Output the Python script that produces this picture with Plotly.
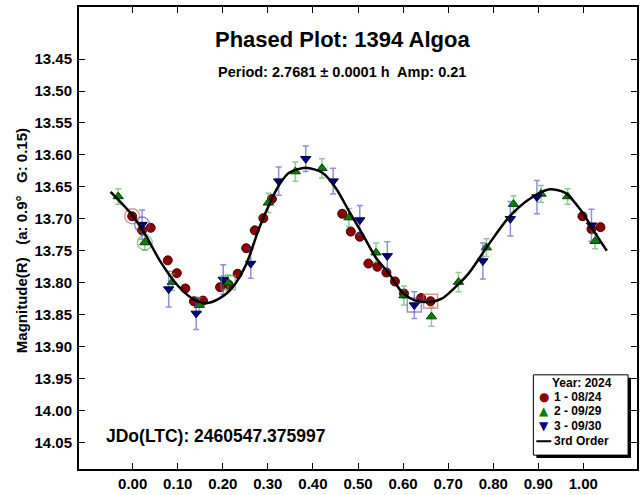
import plotly.graph_objects as go

# ---------------- data ----------------
s1_phase = [-0.001, 0.021, 0.040, 0.078, 0.098, 0.117, 0.136, 0.156, 0.194, 0.213,
            0.233, 0.252, 0.271, 0.290, 0.309, 0.465, 0.484, 0.504, 0.523, 0.543,
            0.563, 0.582, 0.602, 0.640, 0.661, 0.998, 1.018, 1.038]
s1_mag = [13.696, 13.718, 13.714, 13.765, 13.785, 13.809, 13.829, 13.828, 13.807, 13.803,
          13.786, 13.746, 13.718, 13.699, 13.669, 13.692, 13.720, 13.728, 13.770, 13.775,
          13.784, 13.798, 13.817, 13.824, 13.829, 13.696, 13.716, 13.713]
s1_err = [0.005] * len(s1_phase)

s2_phase = [-0.032, 0.027, 0.088, 0.148, 0.212, 0.301, 0.361, 0.420, 0.480, 0.540,
            0.602, 0.663, 0.723, 0.785, 0.845, 0.906, 0.965, 1.026]
s2_mag = [13.665, 13.737, 13.799, 13.835, 13.800, 13.675, 13.626, 13.621, 13.698, 13.753,
          13.820, 13.853, 13.799, 13.745, 13.677, 13.661, 13.665, 13.735]
s2_err = [0.012, 0.012, 0.013, 0.012, 0.012, 0.015, 0.015, 0.015, 0.014, 0.015,
          0.015, 0.015, 0.015, 0.014, 0.013, 0.013, 0.012, 0.012]

s3_phase = [0.021, 0.080, 0.141, 0.201, 0.262, 0.324, 0.384, 0.445, 0.504, 0.565,
            0.625, 0.777, 0.838, 0.897, 1.018]
s3_mag = [13.709, 13.810, 13.848, 13.795, 13.770, 13.641, 13.606, 13.641, 13.702, 13.758,
          13.835, 13.766, 13.700, 13.666, 13.710]
s3_err = [0.023, 0.028, 0.025, 0.023, 0.023, 0.022, 0.020, 0.020, 0.023, 0.022,
          0.021, 0.028, 0.027, 0.026, 0.025]

# first (circled) and last (boxed) point of each session: indices into the series
first_idx = {"s1": 0, "s2": 1, "s3": 0}
last_idx = {"s1": 24, "s2": 4, "s3": 10}

fit_phase = [-0.049, 0.000, 0.030, 0.060, 0.097, 0.133, 0.163, 0.192, 0.222, 0.252,
             0.281, 0.310, 0.325, 0.347, 0.384, 0.421, 0.451, 0.480, 0.510, 0.539,
             0.569, 0.598, 0.628, 0.657, 0.686, 0.716, 0.746, 0.790, 0.834, 0.878,
             0.923, 0.959, 0.996, 1.026, 1.052]
fit_mag = [13.658, 13.695, 13.727, 13.765, 13.802, 13.825, 13.832, 13.825, 13.807, 13.771,
           13.714, 13.667, 13.647, 13.628, 13.620, 13.628, 13.652, 13.688, 13.724, 13.760,
           13.786, 13.815, 13.828, 13.830, 13.825, 13.807, 13.785, 13.740, 13.698, 13.670,
           13.654, 13.659, 13.688, 13.722, 13.750]

x_ticks = [0.0, 0.1, 0.2, 0.3, 0.4, 0.5, 0.6, 0.7, 0.8, 0.9, 1.0]
x_tick_labels = ["0.00", "0.10", "0.20", "0.30", "0.40", "0.50", "0.60", "0.70", "0.80", "0.90", "1.00"]
y_ticks = [13.45, 13.50, 13.55, 13.60, 13.65, 13.70, 13.75, 13.80, 13.85, 13.90, 13.95, 14.00, 14.05]
y_tick_labels = ["%.2f" % v for v in y_ticks]

legend_title = "Year: 2024"
fit_name = "3rd Order"

series = [
    ("s1", "1 - 08/24", s1_phase, s1_mag, s1_err, "circle", 9, "#8b0000", "#4a0000", "rgba(205,90,90,0.65)", "●"),
    ("s2", "2 - 09/29", s2_phase, s2_mag, s2_err, "triangle-up", 9, "#008000", "#004000", "rgba(70,170,70,0.6)", "▲"),
    ("s3", "3 - 09/30", s3_phase, s3_mag, s3_err, "triangle-down", 9, "#000080", "#000040", "rgba(70,70,190,0.6)", "▼"),
]

FONT = "Liberation Sans, Arial, sans-serif"

# layout geometry helpers (pixel -> paper)
L, T, W, H = 79, 7, 560, 466
def px(x):
    return (x - L) / W
def py(y):
    return (T + H - y) / H

fig = go.Figure()

for key, name, ph, mg, er, sym, size, col, edge, ecol, glyph in series:
    fig.add_trace(go.Scatter(
        x=ph, y=mg, mode="markers", name=name, showlegend=False,
        marker=dict(symbol=sym, size=size, color=col, line=dict(color=edge, width=1)),
        error_y=dict(type="data", array=er, visible=True, color=ecol, thickness=1.5, width=3),
    ))

# circled first points and boxed last points
for key, name, ph, mg, er, sym, size, col, edge, ecol, glyph in series:
    i = first_idx[key]
    fig.add_trace(go.Scatter(
        x=[ph[i]], y=[mg[i]], mode="markers", showlegend=False, hoverinfo="skip",
        marker=dict(symbol="circle-open", size=15, color=ecol, line=dict(width=1.5, color=ecol)),
    ))
    j = last_idx[key]
    fig.add_trace(go.Scatter(
        x=[ph[j]], y=[mg[j]], mode="markers", showlegend=False, hoverinfo="skip",
        marker=dict(symbol="square-open", size=14, color=ecol, line=dict(width=1.5, color=ecol)),
    ))

fig.add_trace(go.Scatter(
    x=fit_phase, y=fit_mag, mode="lines", name=fit_name, showlegend=False,
    line=dict(color="black", width=2.5, shape="spline", smoothing=0.8),
))

axis_common = dict(
    showline=True, linecolor="black", linewidth=2, mirror="allticks",
    ticks="inside", ticklen=6, tickcolor="black", tickwidth=1,
    showgrid=False, zeroline=False,
    tickfont=dict(family=FONT, size=15, color="black", weight="bold"),
)

# ---- legend box (drawn manually to match the compact boxed legend) ----
lg_x0, lg_x1, lg_y0, lg_y1 = 535, 630, 378, 459
shapes = [
    dict(type="rect", xref="paper", yref="paper",
         x0=px(lg_x0 + 3), x1=px(lg_x1 + 3), y0=py(lg_y1 + 3), y1=py(lg_y0 + 3),
         fillcolor="black", line=dict(width=0), layer="above"),
    dict(type="rect", xref="paper", yref="paper",
         x0=px(lg_x0), x1=px(lg_x1), y0=py(lg_y1), y1=py(lg_y0),
         fillcolor="white", line=dict(width=1, color="black"), layer="above"),
    dict(type="line", xref="paper", yref="paper",
         x0=px(538), x1=px(553), y0=py(445), y1=py(445),
         line=dict(width=2, color="black"), layer="above"),
]

lgfont = dict(family=FONT, size=12, color="black", weight="bold")
annotations = [
    dict(text=legend_title, xref="paper", yref="paper", x=px(584), y=py(386),
         xanchor="center", yanchor="middle", showarrow=False, font=lgfont),
]
row_y = [400, 415, 430]
for (key, name, ph, mg, er, sym, size, col, edge, ecol, glyph), ry in zip(series, row_y):
    annotations.append(dict(text=glyph, xref="paper", yref="paper", x=px(546), y=py(ry),
                            xanchor="center", yanchor="middle", showarrow=False,
                            font=dict(family="DejaVu Sans", size=12, color=col)))
    annotations.append(dict(text=name, xref="paper", yref="paper", x=px(554), y=py(ry),
                            xanchor="left", yanchor="middle", showarrow=False, font=lgfont))
annotations.append(dict(text=fit_name, xref="paper", yref="paper", x=px(554), y=py(445),
                        xanchor="left", yanchor="middle", showarrow=False, font=lgfont))

annotations += [
    dict(text="Phased Plot: 1394 Algoa", xref="paper", yref="paper", x=px(343), y=py(40),
         xanchor="center", yanchor="middle",
         showarrow=False, font=dict(family=FONT, size=22, color="black", weight="bold")),
    dict(text="Period: 2.7681 ± 0.0001 h  Amp: 0.21", xref="paper", yref="paper", x=px(343),
         y=py(73), xanchor="center", yanchor="middle",
         showarrow=False, font=dict(family=FONT, size=14.5, color="black", weight="bold")),
    dict(text="JDo(LTC): 2460547.375997", xref="paper", yref="paper", x=px(104),
         y=py(440), xanchor="left", yanchor="middle", showarrow=False,
         font=dict(family=FONT, size=17.5, color="black", weight="bold")),
    dict(text="Magnitude(R)\u00a0\u00a0\u00a0(a: 0.9°\u00a0\u00a0\u00a0G: 0.15)", xref="paper", yref="paper",
         x=px(22), y=py(243), xanchor="center", yanchor="middle",
         textangle=-90, showarrow=False,
         font=dict(family=FONT, size=15, color="black", weight="bold")),
]

fig.update_layout(
    width=642, height=495,
    margin=dict(l=L, r=642 - L - W, t=T, b=495 - T - H),
    paper_bgcolor="white", plot_bgcolor="white",
    xaxis=dict(range=[-0.119, 1.119], tickvals=x_ticks, ticktext=x_tick_labels, **axis_common),
    yaxis=dict(range=[14.0915, 13.3685], tickvals=y_ticks, ticktext=y_tick_labels,
               ticklabelstandoff=2, **axis_common),
    showlegend=False,
    shapes=shapes,
    annotations=annotations,
)

fig.write_html("out.html", config={"displayModeBar": False},
               post_script="document.body.style.margin='0';")
